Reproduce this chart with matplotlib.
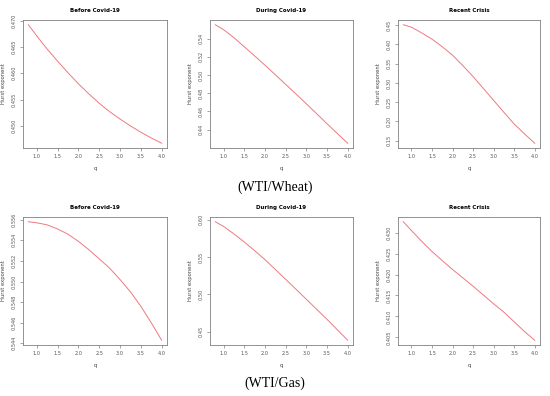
import matplotlib.pyplot as plt
from matplotlib.ticker import FormatStrFormatter

q = [0.8, 1.0, 1.25, 1.5, 1.75, 2.0, 2.25, 2.5, 2.75, 3.0, 3.25, 3.5, 3.75, 4.0]

# WTI/Wheat
wheat_before = [0.4692, 0.4671, 0.4646, 0.4623, 0.4601, 0.4580, 0.4561,
                0.4543, 0.4527, 0.4513, 0.4500, 0.4488, 0.4477, 0.4467]
wheat_during = [0.5554, 0.5500, 0.5412, 0.5312, 0.5212, 0.5109, 0.5004,
                0.4898, 0.4792, 0.4684, 0.4575, 0.4465, 0.4357, 0.4250]
wheat_recent = [0.4513, 0.4450, 0.4300, 0.4138, 0.3940, 0.3720, 0.3450,
                0.3164, 0.2855, 0.2544, 0.2235, 0.1930, 0.1675, 0.1430]

# WTI/Gas
gas_before = [0.5558, 0.5557, 0.5555, 0.5551, 0.5546, 0.5539, 0.5531,
              0.5522, 0.5513, 0.5502, 0.5490, 0.5476, 0.5460, 0.5443]
gas_during = [0.5973, 0.5910, 0.5810, 0.5703, 0.5587, 0.5466, 0.5336,
              0.5203, 0.5070, 0.4937, 0.4802, 0.4668, 0.4528, 0.4388]
gas_recent = [0.4326, 0.4305, 0.4279, 0.4255, 0.4233, 0.4212, 0.4192,
              0.4172, 0.4151, 0.4130, 0.4110, 0.4087, 0.4064, 0.4043]

titles = ["Before Covid-19", "During Covid-19", "Recent Crisis"]
captions = ["(WTI/Wheat)", "(WTI/Gas)"]

yticks = [
    [0.450, 0.455, 0.460, 0.465, 0.470],
    [0.44, 0.46, 0.48, 0.50, 0.52, 0.54],
    [0.15, 0.20, 0.25, 0.30, 0.35, 0.40, 0.45],
    [0.544, 0.546, 0.548, 0.550, 0.552, 0.554, 0.556],
    [0.45, 0.50, 0.55, 0.60],
    [0.405, 0.410, 0.415, 0.420, 0.425, 0.430],
]
yfmt = ['%.3f', '%.2f', '%.2f', '%.3f', '%.2f', '%.3f']
xticks = [1.0, 1.5, 2.0, 2.5, 3.0, 3.5, 4.0]

series = [wheat_before, wheat_during, wheat_recent,
          gas_before, gas_during, gas_recent]

W, H = 550, 396
fig = plt.figure(figsize=(W / 100, H / 100), dpi=100)
fig.patch.set_facecolor('white')

lefts = [23, 210, 398]
widths = [144, 143, 142]
tops = [20, 217]
ax_h = 128
grey = '#808080'

for i, y in enumerate(series):
    r, c = divmod(i, 3)
    ax = fig.add_axes([lefts[c] / W, 1 - (tops[r] + ax_h) / H,
                       widths[c] / W, ax_h / H])
    ax.plot(q, y, color='#f07880', lw=0.7)
    ax.margins(x=0.04, y=0.04)
    ax.set_xticks(xticks)
    ax.xaxis.set_major_formatter(FormatStrFormatter('%.1f'))
    ax.set_yticks(yticks[i])
    ax.yaxis.set_major_formatter(FormatStrFormatter(yfmt[i]))
    ax.tick_params(labelsize=3.6, length=2.5, width=0.5, color=grey,
                   labelcolor='#555555', pad=2)
    for lab in ax.get_yticklabels():
        lab.set_rotation(90)
        lab.set_va('center')
    for s in ax.spines.values():
        s.set_color(grey)
        s.set_linewidth(0.6)
    ax.set_title(titles[c], fontsize=4.0, fontweight='bold', pad=6)
    ax.set_xlabel('q', fontsize=3.8, labelpad=5, color='#444444')
    ax.set_ylabel('Hurst exponent', fontsize=3.8, labelpad=4, color='#444444')

fig.text(0.5, 1 - 187 / H, captions[0], ha='center', va='center',
         fontsize=10, family='Liberation Serif')
fig.text(0.5, 1 - 383 / H, captions[1], ha='center', va='center',
         fontsize=10, family='Liberation Serif')

fig.savefig('out.png', dpi=100)
